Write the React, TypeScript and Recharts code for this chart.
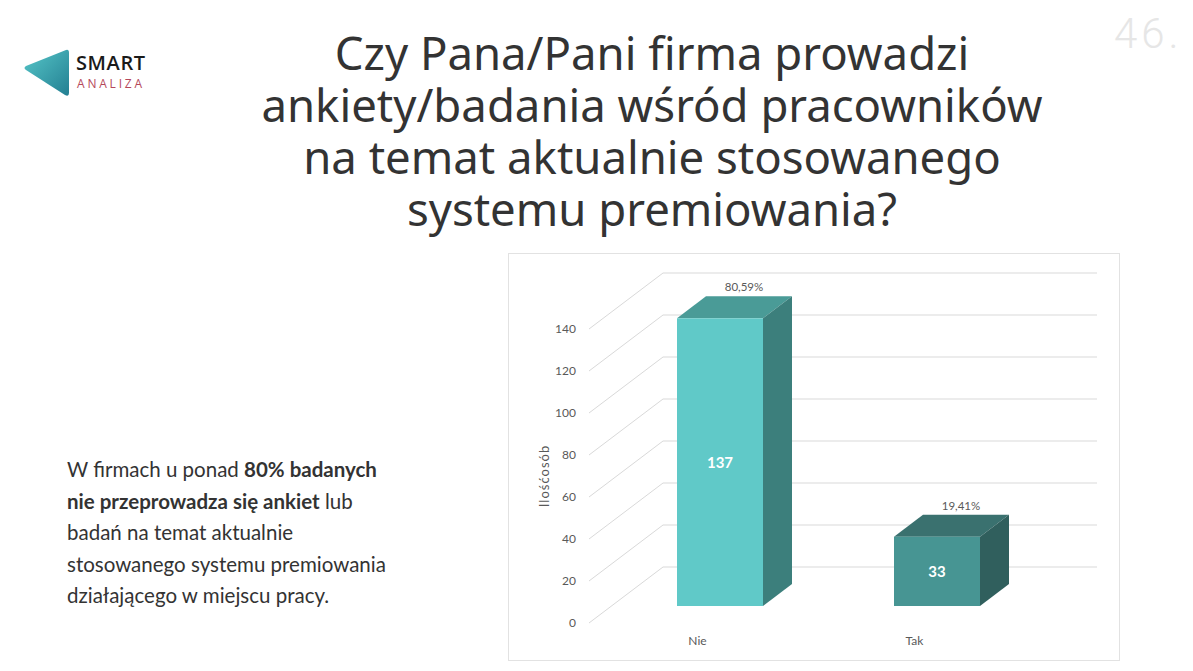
import React from 'react';
import { BarChart, Bar, XAxis, YAxis, CartesianGrid, LabelList } from 'recharts';

const categories = ['Nie', 'Tak'];
const counts = [137, 33];
const yTicks = [0, 20, 40, 60, 80, 100, 120, 140];

const titleLines = [
  'Czy Pana/Pani firma prowadzi',
  'ankiety/badania wśród pracowników',
  'na temat aktualnie stosowanego',
  'systemu premiowania?',
];

// front / top / side colours of each box
const frontColors = ['#60c9c8', '#479593'];
const topColors = ['#4a9b97', '#3a716f'];
const sideColors = ['#3c7f7c', '#305f5d'];

const total = counts.reduce((s, v) => s + v, 0);
const data = categories.map((name, i) => ({ name, value: counts[i] }));
const pct = (v: number) => ((v / total) * 100).toFixed(2).replace('.', ',') + '%';

// oblique 3D projection offsets
const WALL_DX = 74;
const WALL_DY = -56;
const BAR_DX = 22;
const BAR_DY = -17;
const DEPTH_DX = 29;
const DEPTH_DY = -22;

const font = 'Lato, "Open Sans", sans-serif';

function GridLine(props: any) {
  const { x1, y1, x2 } = props;
  const bx = x1 + WALL_DX;
  const by = y1 + WALL_DY;
  return (
    <path
      key={props.key}
      d={`M${x1},${y1} L${bx},${by} L${x2 + WALL_DX},${by}`}
      stroke="#d9d9d9"
      strokeWidth={1}
      fill="none"
    />
  );
}

function Box3D(props: any) {
  const { x, y, width, height, index } = props;
  const fx = x + BAR_DX;
  const fy = y + BAR_DY;
  const r = fx + width;
  const b = fy + height;
  return (
    <g>
      <polygon
        points={`${fx},${fy} ${r},${fy} ${r + DEPTH_DX},${fy + DEPTH_DY} ${fx + DEPTH_DX},${fy + DEPTH_DY}`}
        fill={topColors[index]}
      />
      <polygon
        points={`${r},${fy} ${r + DEPTH_DX},${fy + DEPTH_DY} ${r + DEPTH_DX},${b + DEPTH_DY} ${r},${b}`}
        fill={sideColors[index]}
      />
      <rect x={fx} y={fy} width={width} height={height} fill={frontColors[index]} />
    </g>
  );
}

function ValueLabel(props: any) {
  const { x, y, width, height, value } = props;
  return (
    <text
      x={x + BAR_DX + width / 2}
      y={y + BAR_DY + height / 2}
      textAnchor="middle"
      dominantBaseline="central"
      fill="#ffffff"
      fontSize={15}
      fontWeight={700}
      fontFamily={font}
    >
      {value}
    </text>
  );
}

function PctLabel(props: any) {
  const { x, y, width, value } = props;
  return (
    <text
      x={x + BAR_DX + DEPTH_DX + width / 2 - 5}
      y={y + BAR_DY + DEPTH_DY - 5}
      textAnchor="middle"
      fill="#595959"
      fontSize={11.5}
      fontFamily={font}
    >
      {pct(value)}
    </text>
  );
}

function Logo() {
  return (
    <div style={{ position: 'absolute', left: 20, top: 46 }}>
      <svg width={54} height={54} style={{ position: 'absolute', left: 0, top: 0 }}>
        <defs>
          <linearGradient id="lg" x1="0" y1="0" x2="1" y2="1">
            <stop offset="0%" stopColor="#56c6c8" />
            <stop offset="100%" stopColor="#237f92" />
          </linearGradient>
        </defs>
        <path
          d="M46,4 Q49,3 49,7 L49,47 Q49,51 45,49 L6,24 Q3,22 6,20 Z"
          fill="url(#lg)"
        />
      </svg>
      <div
        style={{
          position: 'absolute',
          left: 56,
          top: 6,
          fontFamily: '"Open Sans", sans-serif',
          fontWeight: 600,
          fontSize: 20,
          color: '#1a1a1a',
          lineHeight: '22px',
          letterSpacing: 0.6,
        }}
      >
        SMART
      </div>
      <div
        style={{
          position: 'absolute',
          left: 57,
          top: 31,
          fontFamily: '"Open Sans", sans-serif',
          fontSize: 12,
          color: '#b5485a',
          lineHeight: '14px',
          letterSpacing: 2.8,
        }}
      >
        ANALIZA
      </div>
    </div>
  );
}

export default function App() {
  return (
    <div
      style={{
        position: 'absolute',
        left: 0,
        top: 0,
        width: 1193,
        height: 671,
        background: '#ffffff',
        overflow: 'hidden',
      }}
    >
      <Logo />

      <div
        style={{
          position: 'absolute',
          left: 1114,
          top: 9,
          fontFamily: 'Roboto, sans-serif',
          fontWeight: 300,
          fontSize: 42,
          letterSpacing: 4,
          color: '#e6e6e6',
          lineHeight: '50px',
        }}
      >
        46.
      </div>

      <div
        style={{
          position: 'absolute',
          left: 202,
          top: 26,
          width: 900,
          textAlign: 'center',
          fontFamily: '"Noto Sans", sans-serif',
          fontSize: 45.5,
          lineHeight: '52px',
          color: '#333333',
        }}
      >
        {titleLines.map((t) => (
          <div key={t} style={{ height: 52 }}>{t}</div>
        ))}
      </div>

      <div
        style={{
          position: 'absolute',
          left: 67,
          top: 454,
          width: 360,
          fontFamily: font,
          fontSize: 20.5,
          lineHeight: '31.5px',
          color: '#333333',
        }}
      >
        W firmach u ponad <b>80% badanych</b>
        <br />
        <b>nie przeprowadza się ankiet</b> lub
        <br />
        badań na temat aktualnie
        <br />
        stosowanego systemu premiowania
        <br />
        działającego w miejscu pracy.
      </div>

      <div
        style={{
          position: 'absolute',
          left: 508,
          top: 253,
          width: 612,
          height: 408,
          boxSizing: 'border-box',
          border: '1px solid #e2e2e2',
        }}
      />

      <div style={{ position: 'absolute', left: 508, top: 253 }}>
        <BarChart
          width={612}
          height={408}
          data={data}
          margin={{ top: 76, right: 97, bottom: 0, left: 0 }}
        >
          <CartesianGrid vertical={false} horizontal={(p: any) => <GridLine {...p} />} />
          <XAxis
            dataKey="name"
            axisLine={false}
            tickLine={false}
            tickSize={0}
            tickMargin={13}
            height={38}
            tick={{ fill: '#595959', fontSize: 12, fontFamily: font }}
          />
          <YAxis
            domain={[0, 140]}
            ticks={yTicks}
            interval={0}
            axisLine={false}
            tickLine={false}
            tickSize={0}
            tickMargin={13}
            width={81}
            tick={{ fill: '#595959', fontSize: 12, fontFamily: font }}
            label={{
              value: 'Ilośćosób',
              angle: -90,
              position: 'center',
              dx: -4,
              fill: '#595959',
              fontSize: 13,
              fontFamily: font,
              letterSpacing: 1,
            }}
          />
          <Bar
            dataKey="value"
            barSize={86}
            isAnimationActive={false}
            shape={(p: any) => <Box3D {...p} />}
          >
            <LabelList dataKey="value" content={(p: any) => <ValueLabel {...p} />} />
            <LabelList dataKey="value" content={(p: any) => <PctLabel {...p} />} />
          </Bar>
        </BarChart>
      </div>
    </div>
  );
}
